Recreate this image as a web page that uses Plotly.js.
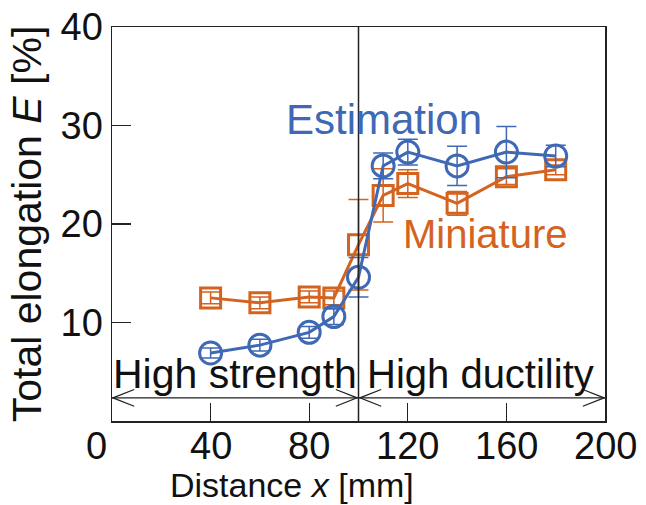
<!DOCTYPE html>
<html>
<head>
<meta charset="utf-8">
<script src="https://cdn.plot.ly/plotly-3.0.1.min.js"></script>
<style>html,body{margin:0;padding:0;background:#fff;}#chart{width:646px;height:505px;}</style>
</head>
<body>
<div id="chart"></div>
<script>
// Data
var distance = [40, 60, 80, 90, 100, 110, 120, 140, 160, 180];
var estimation = [6.9, 7.7, 9.0, 10.6, 14.6, 25.9, 27.3, 25.9, 27.3, 26.9];
var estimationErr = [0.5, 0.6, 0.6, 0.8, 2.0, 1.3, 1.3, 2.0, 2.6, 1.1];
var miniature = [12.5, 12.0, 12.6, 12.5, 17.9, 22.9, 24.1, 22.1, 24.8, 25.5];
var miniatureErr = [0.6, 0.6, 0.6, 0.7, 4.6, 2.7, 1.4, 1.2, 0.8, 0.5];
var xTickVals = [0, 40, 80, 120, 160, 200];
var xTickText = ['0\u00a0\u00a0\u00a0', '40', '80', '120', '160', '200'];
var yTickVals = [10, 20, 30, 40];
var yTickText = ['10', '20', '30', '40'];
var boundaryX = 100;
var regionY = 2.35;

var BLUE = '#3f68b5';
var ORANGE = '#d3631e';
var FONT = 'Liberation Sans, Arial, sans-serif';

var traces = [
  {
    x: distance, y: miniature, name: 'Miniature', type: 'scatter', mode: 'lines+markers',
    line: {color: ORANGE, width: 3},
    marker: {symbol: 'square-open', size: 20, color: ORANGE, line: {color: ORANGE, width: 3}},
    error_y: {type: 'data', array: miniatureErr, visible: true, color: ORANGE, thickness: 1.5, width: 10},
    showlegend: false
  },
  {
    x: distance, y: estimation, name: 'Estimation', type: 'scatter', mode: 'lines+markers',
    line: {color: BLUE, width: 3},
    marker: {symbol: 'circle-open', size: 22, color: BLUE, line: {color: BLUE, width: 3}},
    error_y: {type: 'data', array: estimationErr, visible: true, color: BLUE, thickness: 1.5, width: 10},
    showlegend: false
  }
];

// arrow chevrons (open)
var ax = 8.6, ay = 0.85;
function chevron(x0, dir) {
  return {type: 'path', xref: 'x', yref: 'y',
    path: 'M ' + (x0 + dir * ax) + ' ' + (regionY + ay) + ' L ' + x0 + ' ' + regionY + ' L ' + (x0 + dir * ax) + ' ' + (regionY - ay),
    line: {color: '#222', width: 1.3}};
}
var shapes = [
  {type: 'line', xref: 'x', yref: 'paper', x0: boundaryX, x1: boundaryX, y0: 0, y1: 1, line: {color: '#222', width: 1.5}},
  {type: 'line', xref: 'x', yref: 'y', x0: 0, x1: 200, y0: regionY, y1: regionY, line: {color: '#222', width: 1.3}},
  chevron(0.4, 1), chevron(boundaryX - 0.6, -1), chevron(boundaryX + 0.6, 1), chevron(199.6, -1)
];

var annotations = [
  {x: 110.3, y: 30.6, xref: 'x', yref: 'y', text: 'Estimation', showarrow: false, font: {family: FONT, size: 42, color: BLUE}},
  {x: 151.5, y: 19.0, xref: 'x', yref: 'y', text: 'Miniature', showarrow: false, font: {family: FONT, size: 40, color: ORANGE}},
  {x: 50, y: 4.8, xref: 'x', yref: 'y', text: 'High strength', showarrow: false, font: {family: FONT, size: 41, color: '#111'}},
  {x: 149.5, y: 4.8, xref: 'x', yref: 'y', text: 'High ductility', showarrow: false, font: {family: FONT, size: 40, color: '#111'}},
  {x: 73, y: -0.162, xref: 'x', yref: 'paper', yanchor: 'middle', text: 'Distance <i>x</i> [mm]', showarrow: false, font: {family: FONT, size: 34, color: '#111'}}
];
xTickVals.forEach(function (v, i) {
  annotations.push({x: v, y: -0.063, xref: 'x', yref: 'paper', yanchor: 'middle', text: xTickText[i],
    showarrow: false, font: {family: FONT, size: 38, color: '#111'}});
});

var layout = {
  width: 646, height: 505,
  margin: {l: 112, r: 41, t: 27, b: 84, pad: 0},
  paper_bgcolor: '#fff', plot_bgcolor: '#fff',
  font: {family: FONT, color: '#111'},
  showlegend: false,
  xaxis: {
    range: [0, 200], tickvals: xTickVals, ticktext: xTickText, showticklabels: false,
    ticks: 'inside', ticklen: 18, tickwidth: 1.3, tickcolor: '#222',
    showline: true, mirror: true, linecolor: '#222', linewidth: 1.5,
    showgrid: false, zeroline: false,
    automargin: false
  },
  yaxis: {
    range: [0, 40], tickvals: yTickVals, ticktext: yTickText,
    ticks: 'inside', ticklen: 19, tickwidth: 1.3, tickcolor: '#222',
    showline: true, mirror: true, linecolor: '#222', linewidth: 1.5,
    showgrid: false, zeroline: false,
    tickfont: {family: FONT, size: 38, color: '#111'},
    title: {text: 'Total elongation <i>E</i> [%]', font: {family: FONT, size: 41, color: '#111'}, standoff: 6},
    automargin: false
  },
  shapes: shapes,
  annotations: annotations
};

Plotly.newPlot('chart', traces, layout, {displayModeBar: false, staticPlot: true});
</script>
</body>
</html>
